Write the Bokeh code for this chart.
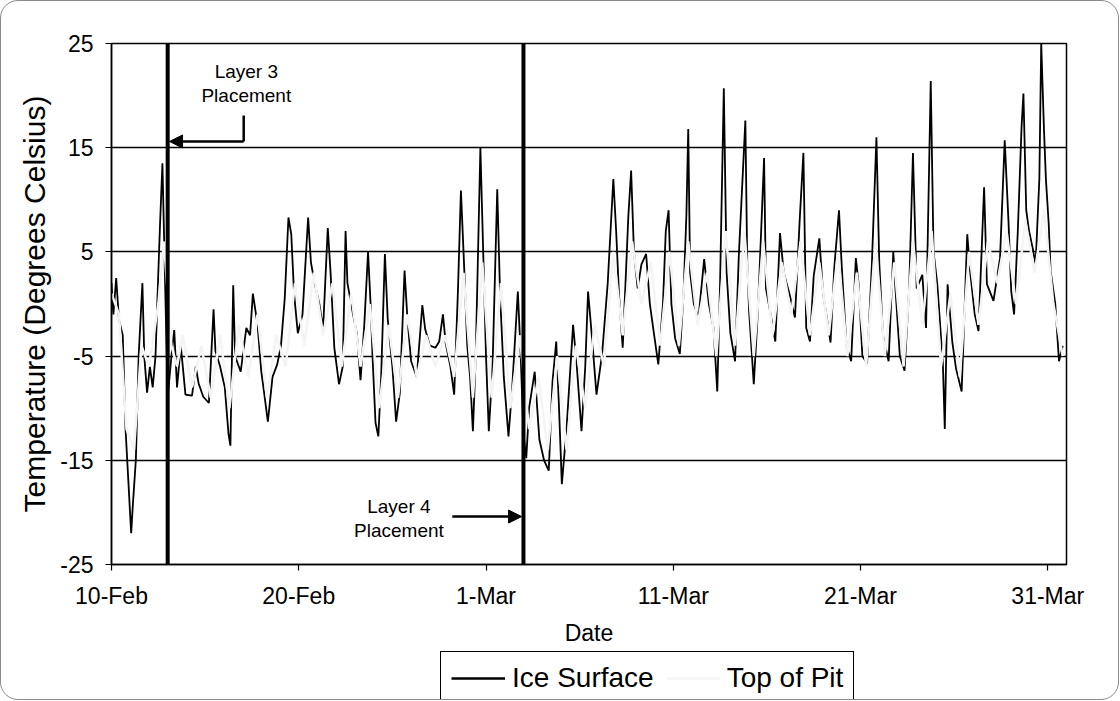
from bokeh.plotting import figure
from bokeh.layouts import column
from bokeh.models import (Span, Arrow, NormalHead, Legend, LegendItem, FixedTicker,
                          ColumnDataSource, Range1d)
from bokeh.core.properties import value
from bokeh.embed import file_html
from bokeh.resources import INLINE

# ---------------- data ----------------
x_tick_days = [0, 10, 20, 30, 40, 50]
x_tick_labels = ["10-Feb", "20-Feb", "1-Mar", "11-Mar", "21-Mar", "31-Mar"]
y_ticks = [-25, -15, -5, 5, 15, 25]
y_tick_labels = ["-25", "-15", "-5", "5", "15", "25"]

# days since 10-Feb 00:00
ice_day = [0.0, 0.1, 0.25, 0.4, 0.6, 0.75, 0.9, 1.05, 1.15, 1.3, 1.45, 1.65, 1.75, 1.9, 2.05, 2.2, 2.35, 2.5, 2.6, 2.72, 2.85, 3.0,
           3.2, 3.35, 3.5, 3.7, 3.95, 4.3, 4.5, 4.65, 4.9, 5.2, 5.45, 5.55, 5.8, 6.05, 6.25, 6.35, 6.5, 6.6,
           6.9, 7.2, 7.4, 7.55, 7.8, 8.0, 8.15, 8.35, 8.6, 8.85, 9.05, 9.25, 9.45, 9.6, 9.75,
           9.95, 10.2, 10.5, 10.65, 10.85, 11.1, 11.3, 11.55, 11.7, 11.9, 12.15, 12.35, 12.5, 12.6,
           12.9, 13.1, 13.3, 13.5, 13.7, 13.85, 13.95, 14.1, 14.25, 14.4, 14.6, 14.75, 15.0, 15.2, 15.4, 15.65, 15.8,
           16.0, 16.3, 16.6, 16.75, 17.0, 17.3, 17.5, 17.7, 17.85, 18.1, 18.3, 18.5,
           18.66, 18.8, 19.0, 19.15, 19.3, 19.45, 19.7, 19.85, 20.0, 20.15, 20.35, 20.6, 20.75, 20.95, 21.2, 21.4, 21.7, 21.85, 22.0,
           22.15, 22.3, 22.6, 22.85, 23.1, 23.35, 23.55, 23.75, 23.9, 24.05, 24.3, 24.65, 24.85, 25.1, 25.3, 25.45, 25.65, 25.9, 26.2,
           26.5, 26.8, 26.95, 27.1, 27.3, 27.45, 27.6, 27.75, 27.9, 28.1, 28.3, 28.55, 28.75, 28.95, 29.2, 29.45, 29.6, 29.75, 29.9, 30.1, 30.35,
           30.55, 30.7, 30.8, 30.9, 31.1, 31.35, 31.65, 31.9, 32.15, 32.35, 32.5, 32.7, 32.85, 33.05, 33.3, 33.5, 33.85, 33.95, 34.05,
           34.3, 34.5, 34.6, 34.85, 34.95, 35.2, 35.45, 35.7, 35.9,
           36.2, 36.5, 36.75, 36.95, 37.1, 37.3, 37.5, 37.8, 38.0, 38.2, 38.4, 38.6, 38.85, 39.0, 39.25, 39.5, 39.75, 39.9,
           40.1, 40.35, 40.6, 40.85, 41.0, 41.2, 41.5, 41.75, 41.85, 42.1, 42.35,
           42.6, 42.8, 43.0, 43.3, 43.5, 43.75, 43.9, 44.1, 44.4, 44.5, 44.65, 44.9, 45.1, 45.4, 45.7, 45.85, 46.1, 46.3,
           46.6, 46.75, 47.1, 47.45, 47.7, 47.9, 48.05, 48.2, 48.4, 48.6, 48.7, 48.85, 49.0, 49.2, 49.35, 49.55, 49.65,
           49.8, 49.9, 50.05, 50.15, 50.4, 50.6, 50.8]
ice_temp = [2.0, -1.0, 2.5, -1.5, -3.0, -12.0, -17.0, -22.0, -19.0, -15.0, -5.0, 2.0, -5.0, -8.5, -6.0, -8.0, -5.0, 3.0, 8.0, 13.5, 3.0, -9.0,
            -5.0, -2.5, -8.0, -4.0, -8.7, -8.8, -6.0, -7.6, -8.9, -9.5, -0.5, -4.5, -6.0, -8.0, -12.5, -13.6, 1.8, -5.0,
            -6.5, -2.3, -3.0, 1.0, -2.0, -6.5, -8.5, -11.3, -7.0, -5.8, -4.0, 0.5, 8.3, 6.7, 1.0,
            -2.8, -1.0, 8.3, 4.0, 2.0, 0.0, -2.4, 7.3, 3.0, -4.2, -7.7, -6.0, 7.0, 2.0,
            -1.0, -2.8, -7.3, -2.0, 5.0, -0.5, -5.5, -11.4, -12.7, -7.0, 4.8, -1.4, -6.0, -11.3, -8.5, 3.2, -1.3,
            -5.5, -7.0, -0.1, -2.4, -4.0, -4.2, -3.6, -1.0, -3.8, -6.0, -8.7, 1.2,
            10.9, 5.0, -4.0, -7.0, -12.2, -5.0, 15.0, 5.0, -5.0, -12.2, -6.0, 11.0, 1.0, -7.0, -12.7, -8.0, 1.2, -4.8, -12.5,
            -14.8, -10.0, -6.5, -13.0, -15.0, -16.0, -7.5, -3.6, -10.0, -17.3, -12.0, -2.0, -6.0, -12.2, -6.0, 1.2, -3.0, -8.7, -4.8,
            2.0, 12.0, 7.0, 1.0, -4.2, 2.0, 8.4, 12.8, 5.0, 1.5, 3.8, 4.8, 0.0, -2.6, -5.8, 0.0, 7.0, 9.0, 0.0, -3.3, -4.8,
            1.0, 8.5, 16.8, 3.0, 0.0, -1.3, 4.3, 0.0, -2.3, -8.4, 2.0, 20.7, 3.0, -2.8, -5.5, 4.6, 17.6, 4.0, -0.7,
            -7.7, -1.3, 2.8, 14.0, 1.5, -1.0, -3.6, 6.8, 3.0,
            1.0, -1.3, 8.0, 14.5, -2.3, -3.6, 2.7, 6.3, 1.0, -1.3, -3.7, 3.5, 9.0, 3.5, -4.0, -5.5, 4.4, 1.9,
            -5.0, -5.7, 3.5, 16.0, 4.0, -3.0, -5.5, 5.0, 1.9, -5.0, -6.4,
            1.5, 14.5, 1.5, 2.8, -2.3, 21.4, 5.0, 1.9, -5.8, -12.0, 1.9, -3.6, -6.2, -8.4, 6.7, 3.2, -1.0, -2.6,
            11.2, 1.9, 0.3, 4.4, 15.7, 8.0, 1.2, -1.0, 7.0, 17.0, 20.2, 9.0, 7.0, 5.3, 3.8, 12.0, 25.0,
            16.6, 12.0, 7.7, 3.2, 0.0, -5.5, -4.0]

pit_day = [0.0, 0.4, 0.8, 1.2, 1.6, 2.0, 2.5, 2.8, 3.2,
           3.5, 3.8, 4.3, 4.8, 5.3, 5.8, 6.3, 6.8, 7.3, 7.8, 8.3, 8.8, 9.3, 9.8, 10.3, 10.8, 11.3, 11.8,
           12.3, 12.8, 13.3, 13.8, 14.3, 14.8, 15.3, 15.8, 16.3, 16.8, 17.3, 17.8, 18.3, 18.8, 19.3, 19.8,
           20.3, 20.8, 21.3, 21.8, 22.3, 22.8, 23.3, 23.8, 24.3, 24.8, 25.3, 25.8, 26.3, 26.8, 27.3, 27.8,
           28.3, 28.8, 29.3, 29.8, 30.3, 30.8, 31.3, 31.8, 32.3, 32.8, 33.3, 33.8, 34.3, 34.8, 35.3, 35.8,
           36.3, 36.8, 37.3, 37.8, 38.3, 38.8, 39.3, 39.8, 40.3, 40.8, 41.3, 41.8, 42.3, 42.8, 43.3, 43.8,
           44.3, 44.8, 45.3, 45.8, 46.3, 46.8, 47.3, 47.8, 48.3, 48.8, 49.3, 49.8, 50.3, 50.8]
pit_temp = [1.0, -1.0, -12.0, -14.0, -4.0, -6.0, 0.0, 6.0, -4.0,
            -6.0, -3.0, -8.0, -4.0, -9.0, -3.0, -10.0, -2.0, -7.0, -1.0, -9.0, -3.0, -6.0, 2.0, -4.0, 3.0, -3.0, 2.0,
            -6.0, 1.0, -6.0, 0.0, -10.0, -2.0, -9.0, -1.0, -7.0, -3.0, -6.0, -3.0, -7.0, 3.0, -9.0, 4.0,
            -9.0, 2.0, -10.0, -3.0, -12.0, -7.0, -14.0, -5.0, -14.0, -4.0, -10.0, -2.0, -6.0, 5.0, -3.0, 6.0,
            0.0, 4.0, -4.0, 5.0, -4.0, 6.0, -2.0, 3.0, -5.0, 7.0, -4.0, 7.0, -5.0, 6.0, -3.0, 4.0,
            -1.0, 6.0, -3.0, 4.0, -3.0, 5.0, -5.0, 3.0, -6.0, 6.0, -5.0, 4.0, -6.0, 6.0, -2.0, 7.0,
            -6.0, 1.0, -7.0, 5.0, -2.0, 6.0, 2.0, 7.0, 0.0, 8.0, 3.0, 9.0, 0.0, -5.0]

placement_days = [3.0, 22.0]
placement_labels = ["Layer 3\nPlacement", "Layer 4\nPlacement"]
series_names = ["Ice Surface", "Top of Pit"]

FONT = "Liberation Sans"
ICE_STYLE = dict(line_color="black", line_width=1.8)
PIT_STYLE = dict(line_color="#f4f4f4", line_width=2.5)

# ---------------- main figure ----------------
p = figure(width=1117, height=650, output_backend="svg", toolbar_location=None,
           x_range=Range1d(0, 51), y_range=Range1d(-25, 25),
           min_border_left=110, min_border_right=52, min_border_top=42, min_border_bottom=87,
           background_fill_color="white", border_fill_color="white", border_fill_alpha=0)

p.outline_line_color = "black"
p.outline_line_width = 1.5

p.xgrid.visible = False
p.ygrid.grid_line_color = "black"
p.ygrid.grid_line_width = 1.6
p.ygrid.ticker = FixedTicker(ticks=y_ticks)

p.yaxis.ticker = FixedTicker(ticks=y_ticks)
p.yaxis.major_label_overrides = {t: s for t, s in zip(y_ticks, y_tick_labels)}
p.xaxis.ticker = FixedTicker(ticks=x_tick_days)
p.xaxis.major_label_overrides = {t: s for t, s in zip(x_tick_days, x_tick_labels)}

for ax in (p.xaxis[0], p.yaxis[0]):
    ax.axis_line_color = "black"
    ax.axis_line_width = 1.5
    ax.major_tick_line_color = "black"
    ax.major_tick_line_width = 1.2
    ax.minor_tick_line_color = None
    ax.major_tick_in = 0
    ax.major_tick_out = 6
    ax.major_label_text_font = FONT
    ax.major_label_text_font_size = "23px"
    ax.major_label_text_color = "black"
    ax.axis_label_text_font = FONT
    ax.axis_label_text_font_style = "normal"
    ax.axis_label_text_color = "black"

p.yaxis.axis_label = "Temperature (Degrees Celsius)"
p.yaxis.axis_label_text_font_size = "30px"
p.yaxis.major_label_standoff = 12
p.yaxis.axis_label_standoff = 6
p.xaxis.axis_label = "Date"
p.xaxis.axis_label_text_font_size = "23px"
p.xaxis.major_label_standoff = 12
p.xaxis.axis_label_standoff = 8

ice_src = ColumnDataSource(dict(x=ice_day, y=ice_temp))
pit_src = ColumnDataSource(dict(x=pit_day, y=pit_temp))
ice_r = p.line("x", "y", source=ice_src, **ICE_STYLE)
pit_r = p.line("x", "y", source=pit_src, **PIT_STYLE)

for d in placement_days:
    p.add_layout(Span(location=d, dimension="height", line_color="black", line_width=4))

# annotations
p.text(x=[7.2, 15.35], y=[21.2, -20.6], text=placement_labels,
       text_font=value(FONT), text_font_size="19px", text_align="center",
       text_baseline="middle", text_color="black", text_line_height=1.15)
p.segment(x0=[7.06], y0=[18.1], x1=[7.06], y1=[15.6], line_color="black", line_width=2.5)
p.add_layout(Arrow(end=NormalHead(size=13, fill_color="black", line_color="black"),
                   x_start=7.06, y_start=15.6, x_end=3.1, y_end=15.6,
                   line_color="black", line_width=2.5))
p.add_layout(Arrow(end=NormalHead(size=13, fill_color="black", line_color="black"),
                   x_start=18.2, y_start=-20.4, x_end=21.9, y_end=-20.4,
                   line_color="black", line_width=2.5))

# ---------------- legend strip ----------------
lg = figure(width=1117, height=48, output_backend="svg", toolbar_location=None,
            x_range=Range1d(0, 1), y_range=Range1d(0, 1),
            x_axis_type=None, y_axis_type=None,
            min_border_left=0, min_border_right=0, min_border_top=0, min_border_bottom=0,
            border_fill_alpha=0, background_fill_alpha=0)
lg.outline_line_color = None
lg.grid.visible = False
nan = float("nan")
ice_key = lg.line(x=[nan, nan], y=[nan, nan], line_color="black", line_width=2.5)
pit_key = lg.line(x=[nan, nan], y=[nan, nan], **PIT_STYLE)
legend = Legend(items=[LegendItem(label=series_names[0], renderers=[ice_key]),
                       LegendItem(label=series_names[1], renderers=[pit_key])],
                orientation="horizontal", location=(329, -6),
                label_text_font=FONT, label_text_font_size="28px", label_text_color="black",
                glyph_width=54, glyph_height=20, label_standoff=7, spacing=12, padding=10,
                border_line_color="black", border_line_width=1.5, border_line_alpha=1.0,
                margin=0, background_fill_color="white", background_fill_alpha=1.0)
lg.add_layout(legend)

layout = column(p, lg, spacing=0)
layout.styles = {"border": "1.5px solid #8a8a8a", "border-radius": "18px"}

open("out.html", "w").write(file_html(layout, INLINE))
